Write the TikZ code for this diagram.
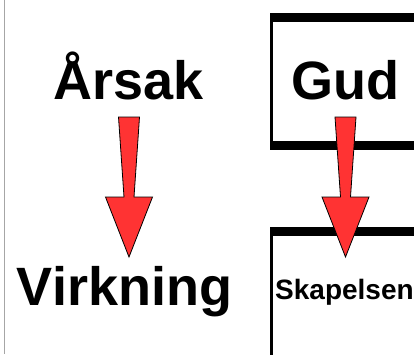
\documentclass[tikz,border=0pt]{standalone}
\usepackage{fontspec}
\setmainfont{Liberation Sans}
\usetikzlibrary{calc}

\newcommand{\redarrow}[2]{%
  \filldraw[arrowfill] ($(#1)+(-10.5,0)$) -- ($(#1)+(10.5,0)$) -- ($(#2)+(5,-60)$)
    -- ($(#2)+(23.5,-60)$) -- (#2) -- ($(#2)+(-23.5,-60)$) -- ($(#2)+(-5,-60)$) -- cycle;}

\begin{document}
\begin{tikzpicture}[x=1pt,y=-1pt,
    bigword/.style={inner sep=0pt,anchor=base,font=\fontsize{54}{60}\selectfont\bfseries},
    arrowfill/.style={fill={rgb,255:red,255;green,51;blue,51},draw=black,line width=0.8pt,line join=miter}]
  \useasboundingbox (0,0) rectangle (414,354);
  \clip (0,0) rectangle (414,354);
  \fill[white] (0,0) rectangle (414,354);
  \draw[gray!70,line width=1.5pt] (4.5,0) -- (4.5,354);
  \fill (270,13) rectangle (420,22);
  \fill (270,141) rectangle (420,150);
  \fill (270,13) rectangle (273,150);
  \fill (270,227) rectangle (420,236);
  \fill (270,227) rectangle (273,360);
  \node[bigword] (arsak) at (129,99) {Årsak};
  \node[bigword] (virkning) at (124.5,305) {Virkning};
  \node[bigword] (gud) at (345.5,99) {Gud};
  \node[inner sep=0pt,anchor=base west,font=\fontsize{28}{32}\selectfont\bfseries] (skapelsen) at (275,299) {Skapelsen};
  \coordinate (a1) at (arsak.base |- 0,117);
  \coordinate (a2) at (arsak.base |- 0,257);
  \coordinate (g1) at (gud.base |- 0,117);
  \coordinate (g2) at (gud.base |- 0,257);
  \redarrow{a1}{a2}
  \redarrow{g1}{g2}
\end{tikzpicture}
\end{document}
